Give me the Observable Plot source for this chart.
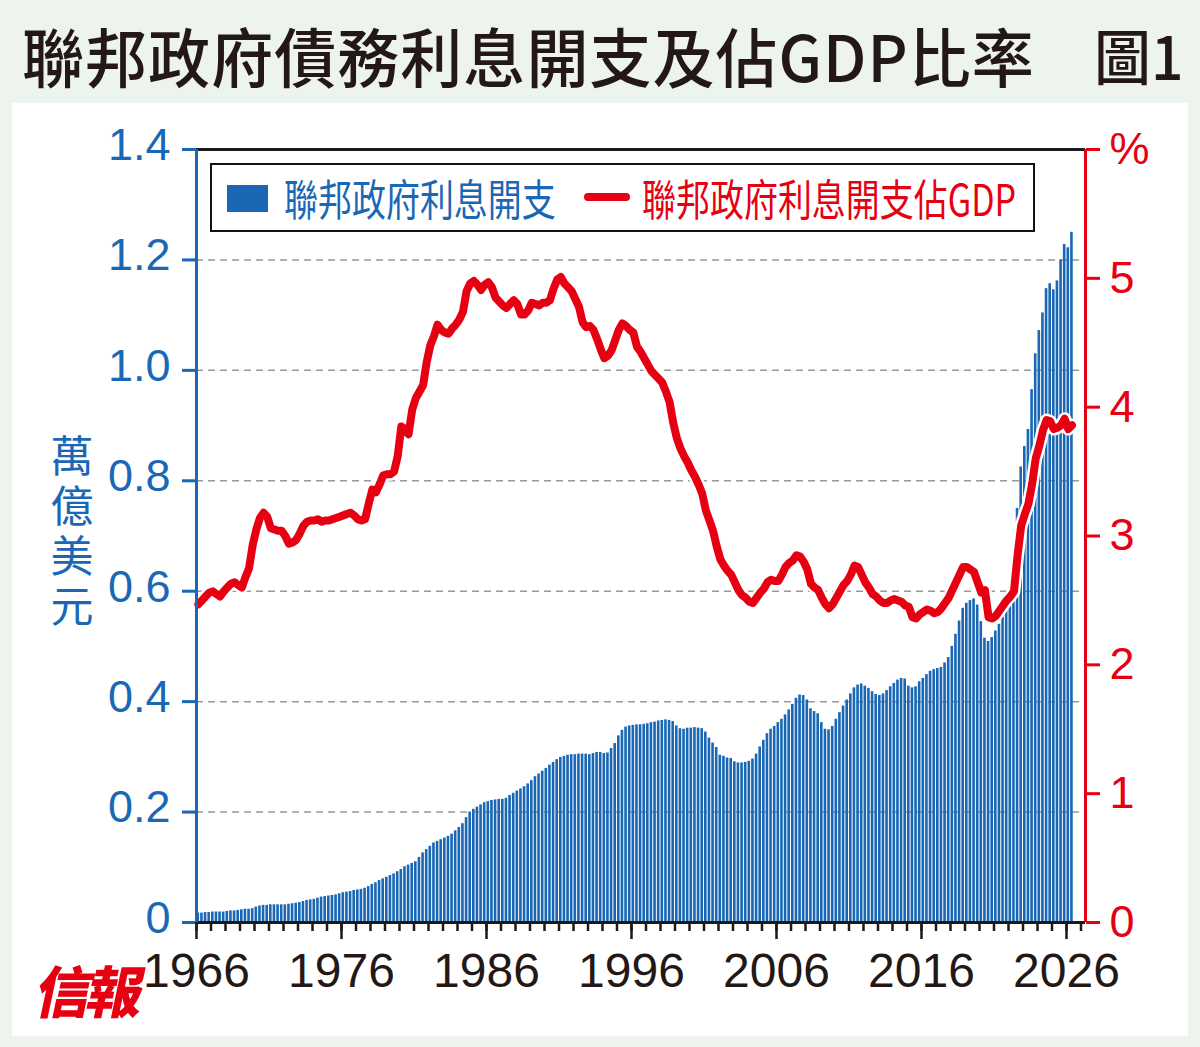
<!DOCTYPE html>
<html><head><meta charset="utf-8">
<script src="https://cdn.jsdelivr.net/npm/d3@7"></script>
<script src="https://cdn.jsdelivr.net/npm/@observablehq/plot@0.6"></script>
<style>
html,body{margin:0;padding:0;}
body{width:1200px;height:1047px;background:#edf4ed;position:relative;overflow:hidden;font-family:"Noto Sans CJK TC","Noto Sans CJK SC",sans-serif;}
#title{position:absolute;left:22px;top:4px;font-size:64px;font-weight:500;color:#231815;white-space:nowrap;line-height:100px;letter-spacing:1px;transform-origin:left center;transform:scaleX(0.97);}
#fig{position:absolute;left:1094px;top:4px;font-size:60px;font-weight:500;color:#231815;white-space:nowrap;line-height:100px;transform-origin:left center;transform:scaleX(0.95);}
#panel{position:absolute;left:12px;top:103px;width:1176px;height:933px;background:#fff;}
#chart{position:absolute;left:0;top:100px;}
#legend{position:absolute;left:210px;top:163px;width:821px;height:65px;border:2.5px solid #111;background:#fff;}
.lg{position:absolute;top:0;height:65px;line-height:65px;font-size:43px;white-space:nowrap;transform-origin:left center;transform:scaleX(0.79);}
#ylabel{position:absolute;left:50px;top:434px;font-size:43px;line-height:1;letter-spacing:7px;writing-mode:vertical-rl;text-orientation:upright;color:#1a68b5;}
#logo{position:absolute;left:38px;top:948px;font-size:56px;font-weight:900;color:#e60012;transform:skewX(-12deg);letter-spacing:-5px;}
</style></head>
<body>
<div id="title">聯邦政府債務利息開支及佔GDP比率</div>
<div id="fig">圖1</div>
<div id="panel"></div>
<div id="chart"></div>
<div id="legend">
  <div style="position:absolute;left:15px;top:20px;width:41px;height:27px;background:#1a68b5"></div>
  <div class="lg" style="left:72px;color:#1a68b5">聯邦政府利息開支</div>
  <div style="position:absolute;left:372px;top:28px;width:46px;height:8px;border-radius:4px;background:#e60012"></div>
  <div class="lg" style="left:430px;color:#e60012">聯邦政府利息開支佔GDP</div>
</div>
<div id="ylabel">萬億美元</div>
<div id="logo">信報</div>
<script>
// quarterly data, first quarter = 1966 Q1
const startYear = 1966;
// Federal interest outlays, trillion USD (annualised), quarterly
const interestOutlays = [
  0.017,0.017,0.018,0.018, // 1966
  0.019,0.019,0.019,0.019, // 1967
  0.020,0.021,0.021,0.022, // 1968
  0.023,0.024,0.024,0.025, // 1969
  0.028,0.030,0.031,0.031, // 1970
  0.032,0.032,0.032,0.032, // 1971
  0.032,0.033,0.034,0.035, // 1972
  0.036,0.038,0.040,0.041, // 1973
  0.042,0.044,0.046,0.047, // 1974
  0.048,0.049,0.050,0.052, // 1975
  0.054,0.055,0.056,0.058, // 1976
  0.059,0.060,0.062,0.065, // 1977
  0.069,0.072,0.076,0.079, // 1978
  0.082,0.085,0.088,0.092, // 1979
  0.096,0.101,0.104,0.107, // 1980
  0.110,0.118,0.126,0.132, // 1981
  0.138,0.144,0.147,0.150, // 1982
  0.153,0.156,0.160,0.166, // 1983
  0.172,0.179,0.190,0.200, // 1984
  0.205,0.209,0.213,0.217, // 1985
  0.219,0.221,0.222,0.223, // 1986
  0.223,0.225,0.230,0.234, // 1987
  0.238,0.242,0.246,0.251, // 1988
  0.257,0.264,0.269,0.274, // 1989
  0.279,0.285,0.290,0.295, // 1990
  0.299,0.301,0.303,0.304, // 1991
  0.304,0.305,0.305,0.305, // 1992
  0.304,0.306,0.308,0.308, // 1993
  0.306,0.307,0.315,0.324, // 1994
  0.338,0.348,0.354,0.356, // 1995
  0.357,0.358,0.358,0.359, // 1996
  0.360,0.362,0.363,0.365, // 1997
  0.366,0.367,0.366,0.364, // 1998
  0.356,0.351,0.350,0.352, // 1999
  0.352,0.353,0.352,0.351, // 2000
  0.345,0.334,0.325,0.317, // 2001
  0.303,0.301,0.298,0.297, // 2002
  0.291,0.289,0.289,0.290, // 2003
  0.292,0.296,0.305,0.318, // 2004
  0.330,0.342,0.350,0.355, // 2005
  0.362,0.368,0.376,0.385, // 2006
  0.395,0.406,0.412,0.411, // 2007
  0.403,0.387,0.382,0.378, // 2008
  0.362,0.350,0.349,0.355, // 2009
  0.368,0.380,0.392,0.403, // 2010
  0.414,0.425,0.430,0.432, // 2011
  0.428,0.424,0.418,0.413, // 2012
  0.411,0.414,0.420,0.427, // 2013
  0.433,0.439,0.442,0.441, // 2014
  0.428,0.425,0.427,0.436, // 2015
  0.442,0.449,0.455,0.458, // 2016
  0.460,0.462,0.470,0.480, // 2017
  0.500,0.522,0.546,0.569, // 2018
  0.578,0.583,0.586,0.575, // 2019
  0.545,0.515,0.509,0.516, // 2020
  0.528,0.540,0.553,0.565, // 2021
  0.575,0.605,0.750,0.825, // 2022
  0.862,0.893,0.965,1.030, // 2023
  1.072,1.104,1.148,1.157, // 2024
  1.146,1.162,1.200,1.228, // 2025
  1.222,1.250              // 2026
];
// Interest outlays as % of GDP, quarterly
const interestPctGDP = [
  2.47,2.50,2.53,2.56, // 1966
  2.57,2.55,2.53,2.57, // 1967
  2.60,2.63,2.64,2.62, // 1968
  2.60,2.68,2.75,2.93, // 1969
  3.05,3.14,3.18,3.15, // 1970
  3.06,3.05,3.04,3.04, // 1971
  3.00,2.94,2.95,2.97, // 1972
  3.02,3.08,3.11,3.12, // 1973
  3.12,3.13,3.11,3.12, // 1974
  3.12,3.13,3.14,3.15, // 1975
  3.16,3.17,3.18,3.16, // 1976
  3.13,3.12,3.13,3.25, // 1977
  3.36,3.34,3.40,3.47, // 1978
  3.48,3.48,3.50,3.62, // 1979
  3.85,3.83,3.79,3.98, // 1980
  4.07,4.12,4.17,4.35, // 1981
  4.48,4.55,4.64,4.60, // 1982
  4.58,4.57,4.61,4.64, // 1983
  4.68,4.74,4.90,4.96, // 1984
  4.98,4.95,4.91,4.95, // 1985
  4.97,4.93,4.85,4.82, // 1986
  4.79,4.77,4.80,4.83, // 1987
  4.80,4.72,4.72,4.75, // 1988
  4.81,4.80,4.79,4.81, // 1989
  4.81,4.83,4.92,4.99, // 1990
  5.01,4.96,4.93,4.90, // 1991
  4.84,4.78,4.66,4.62, // 1992
  4.63,4.60,4.53,4.45, // 1993
  4.38,4.40,4.44,4.52, // 1994
  4.60,4.65,4.63,4.60, // 1995
  4.58,4.47,4.43,4.38, // 1996
  4.33,4.28,4.25,4.22, // 1997
  4.19,4.12,4.04,3.88, // 1998
  3.76,3.68,3.62,3.57, // 1999
  3.51,3.46,3.40,3.33, // 2000
  3.20,3.12,3.04,2.92, // 2001
  2.82,2.77,2.73,2.70, // 2002
  2.64,2.58,2.54,2.52, // 2003
  2.49,2.48,2.52,2.56, // 2004
  2.59,2.64,2.66,2.65, // 2005
  2.65,2.70,2.76,2.79, // 2006
  2.81,2.85,2.84,2.80, // 2007
  2.74,2.63,2.60,2.58, // 2008
  2.52,2.47,2.44,2.47, // 2009
  2.52,2.57,2.62,2.65, // 2010
  2.70,2.77,2.76,2.70, // 2011
  2.64,2.60,2.55,2.53, // 2012
  2.50,2.48,2.48,2.50, // 2013
  2.51,2.50,2.49,2.46, // 2014
  2.45,2.37,2.36,2.39, // 2015
  2.41,2.43,2.42,2.40, // 2016
  2.41,2.44,2.48,2.52, // 2017
  2.58,2.64,2.70,2.76, // 2018
  2.76,2.74,2.72,2.64, // 2019
  2.56,2.58,2.37,2.36, // 2020
  2.38,2.42,2.46,2.50, // 2021
  2.53,2.57,2.85,3.08, // 2022
  3.17,3.25,3.40,3.60, // 2023
  3.70,3.82,3.90,3.89, // 2024
  3.83,3.84,3.86,3.91, // 2025
  3.83,3.86            // 2026
];
const leftTicks = [0, 0.2, 0.4, 0.6, 0.8, 1.0, 1.2, 1.4];
const rightTicks = [0, 1, 2, 3, 4, 5, 6];
const labelYears = [1966, 1976, 1986, 1996, 2006, 2016, 2026];
const minorYears = d3.range(1966, 2028);

const BLUE = "#1a68b5", RED = "#e60012", INK = "#231815";
const K = 1.4 / 6;           // right-axis % -> left-axis units
const X0 = 1966, X1 = 1966 + 889 / 14.5;

const data = interestOutlays.map((v, i) => ({
  t: startYear + i / 4, v, r: interestPctGDP[i]
}));

const numFont = '"Liberation Sans Narrow","Liberation Sans",Arial,sans-serif';

const chart = Plot.plot({
  width: 1200, height: 900,
  marginTop: 49, marginBottom: 78, marginLeft: 196, marginRight: 115,
  x: {domain: [X0, X1]},
  y: {domain: [0, 1.4]},
  style: {background: "transparent", overflow: "visible"},
  marks: [
    Plot.ruleY([0.2, 0.4, 0.6, 0.8, 1.0, 1.2], {stroke: "#999", strokeWidth: 1.5, strokeDasharray: "7,5"}),
    Plot.rectY(data, {x1: d => d.t + 0.035, x2: d => d.t + 0.215, y1: 0, y2: "v", fill: BLUE}),
    Plot.line(data, {x: d => d.t + 0.125, y: d => d.r * K, stroke: "#fff", strokeWidth: 13, strokeLinejoin: "round", strokeLinecap: "round"}),
    Plot.line(data, {x: d => d.t + 0.125, y: d => d.r * K, stroke: RED, strokeWidth: 8, strokeLinejoin: "round", strokeLinecap: "round"}),
    Plot.ruleY([1.4], {stroke: "#1a1a1a", strokeWidth: 3}),
    Plot.ruleY([0], {stroke: "#1a1a1a", strokeWidth: 3}),
    Plot.ruleX([X0], {stroke: BLUE, strokeWidth: 3}),
    Plot.ruleX([X1], {stroke: RED, strokeWidth: 3}),
    Plot.axisY(leftTicks, {anchor: "left", tickSize: 14, strokeWidth: 3, color: BLUE, label: null, tickFormat: () => ""}),
    Plot.text(leftTicks, {x: X0, y: d => d, dx: -26, dy: -4, textAnchor: "end", fill: BLUE, fontSize: 45, fontFamily: numFont,
      text: d => d === 0 ? "0" : d.toFixed(1)}),
    Plot.axisY(rightTicks.map(v => v * K), {anchor: "right", tickSize: 14, tickPadding: 10, strokeWidth: 3, color: RED, fontSize: 45, fontFamily: numFont, label: null,
      tickFormat: d => { const p = Math.round(d / K); return p === 6 ? "%" : String(p); }}),
    Plot.axisX(minorYears, {anchor: "bottom", tickSize: 9, strokeWidth: 2.5, color: INK, tickFormat: () => "", label: null}),
    Plot.axisX(labelYears, {anchor: "bottom", tickSize: 17, tickPadding: 13, strokeWidth: 2.5, color: INK, fontSize: 48, fontFamily: numFont, label: null, tickFormat: d => String(d)})
  ]
});
document.getElementById("chart").appendChild(chart);
</script>
</body></html>
